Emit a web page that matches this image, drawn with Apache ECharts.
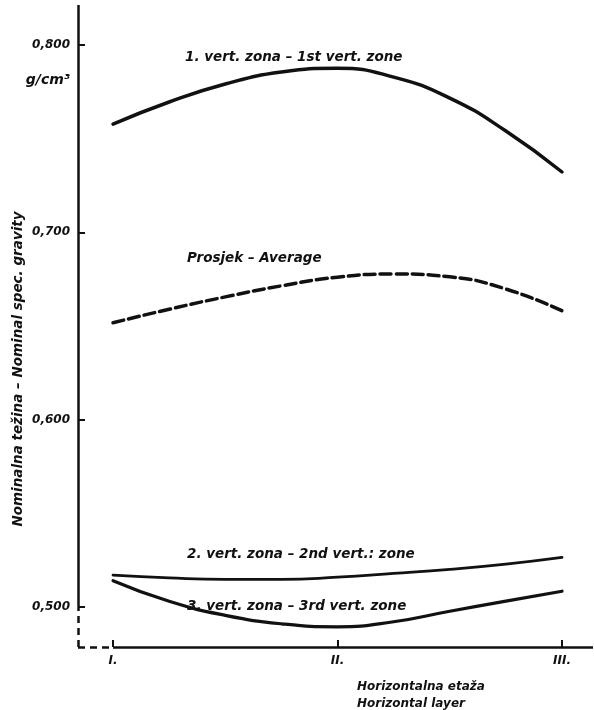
<!DOCTYPE html>
<html>
<head>
<meta charset="utf-8">
<script src="https://cdn.jsdelivr.net/npm/echarts@6/dist/echarts.min.js"></script>
<style>
  html, body { margin: 0; padding: 0; background: #fff; }
  #main { width: 594px; height: 710px; }
</style>
</head>
<body>
<div id="main"></div>
<script>
var chartDom = document.getElementById('main');
var myChart = echarts.init(chartDom);
var option;

// horizontal layers (I. = 0, II. = 1, III. = 2) and sample positions along the curves
var layerLabels = ['I.', 'II.', 'III.'];
var layerTicks = [0, 1, 2];
var samplePos = [0, 0.25, 0.5, 0.75, 1, 1.25, 1.5, 1.75, 2];

// nominal specific gravity, g/cm3
var zone1 = [0.7578, 0.7696, 0.7792, 0.7856, 0.7876, 0.7829, 0.7717, 0.7541, 0.7322];
var average = [0.6517, 0.6589, 0.6655, 0.6714, 0.676, 0.6777, 0.6762, 0.6697, 0.6581];
var zone2 = [0.5169, 0.5154, 0.5146, 0.5146, 0.5158, 0.5178, 0.520, 0.5228, 0.5264];
var zone3 = [0.5139, 0.5029, 0.4954, 0.4909, 0.4893, 0.492, 0.4976, 0.503, 0.5083];

var yTicks = [0.5, 0.6, 0.7, 0.8];

// axis extents
var xMin = -0.156, xMax = 2.138;
var yMin = 0.4785, yMax = 0.8214;

var font = 'DejaVu Sans';
var ink = '#111';
var labelFont = 'italic bold 13.5px "DejaVu Sans"';

function pairs(vals) {
    return samplePos.map(function (x, i) { return [x, vals[i]]; });
}

function curve(name, vals, width, dashed) {
    return {
        name: name,
        type: 'line',
        smooth: true,
        sampling: null,
        showSymbol: false,
        symbol: 'none',
        clip: false,
        lineStyle: {
            color: ink,
            width: width,
            type: dashed ? [11, 5] : 'solid',
            cap: 'round',
            join: 'round'
        },
        data: pairs(vals)
    };
}

function seg(a, b, dashed) {
    return [
        { coord: a, lineStyle: { color: ink, width: 2.5, type: dashed ? [7, 5] : 'solid' } },
        { coord: b }
    ];
}

function note(text, x, y) {
    return {
        type: 'text', x: x, y: y,
        style: { text: text, fill: ink, verticalAlign: 'middle', font: labelFont }
    };
}

option = {
    animation: false,
    backgroundColor: '#fff',
    textStyle: { fontFamily: font },
    grid: { left: 78, right: 1, top: 5, bottom: 63 },
    xAxis: {
        type: 'value',
        min: xMin,
        max: xMax,
        splitLine: { show: false },
        axisLine: { show: false, onZero: false },
        axisTick: {
            show: true,
            inside: true,
            length: 7,
            customValues: layerTicks,
            lineStyle: { color: ink, width: 2 }
        },
        axisLabel: {
            customValues: layerTicks,
            margin: 8,
            color: ink,
            fontFamily: font,
            fontSize: 12,
            fontWeight: 'bold',
            fontStyle: 'italic',
            formatter: function (v) { return layerLabels[Math.round(v)]; }
        }
    },
    yAxis: {
        type: 'value',
        min: yMin,
        max: yMax,
        splitLine: { show: false },
        axisLine: { show: false, onZero: false },
        axisTick: {
            show: true,
            inside: true,
            length: 7,
            customValues: yTicks,
            lineStyle: { color: ink, width: 2 }
        },
        axisLabel: {
            customValues: yTicks,
            margin: 8,
            color: ink,
            fontFamily: font,
            fontSize: 12,
            fontWeight: 'bold',
            fontStyle: 'italic',
            formatter: function (v) { return v.toFixed(3).replace('.', ','); }
        }
    },
    series: [
        curve('1. vert. zona', zone1, 3.5, false),
        curve('Prosjek', average, 3.5, true),
        curve('2. vert. zona', zone2, 2.8, false),
        curve('3. vert. zona', zone3, 3.2, false),
        {
            // axis frame: solid above 0,500 and right of I., dashed in the broken corner
            type: 'line',
            data: [],
            markLine: {
                silent: true,
                symbol: 'none',
                label: { show: false },
                data: [
                    seg([xMin, 0.5], [xMin, yMax], false),
                    seg([xMin, yMin], [xMin, 0.5], true),
                    seg([xMin, yMin], [0, yMin], true),
                    seg([0, yMin], [xMax, yMin], false)
                ]
            }
        }
    ],
    graphic: [
        {
            type: 'text', x: 70, y: 80,
            style: {
                text: 'g/cm³', fill: ink, align: 'right', verticalAlign: 'middle',
                font: 'italic bold 14px "DejaVu Sans"'
            }
        },
        {
            type: 'text', x: 18, y: 369, rotation: Math.PI / 2,
            style: {
                text: 'Nominalna težina – Nominal spec. gravity',
                fill: ink, align: 'center', verticalAlign: 'middle',
                font: 'italic bold 13.5px "DejaVu Sans"'
            }
        },
        note('1. vert. zona – 1st vert. zone', 185, 57),
        note('Prosjek – Average', 187, 258),
        note('2. vert. zona – 2nd vert.: zone', 187, 554),
        note('3. vert. zona – 3rd vert. zone', 187, 606),
        {
            type: 'text', x: 357, y: 678,
            style: {
                text: 'Horizontalna etaža\nHorizontal layer', fill: ink, lineHeight: 17,
                font: 'italic bold 12px "DejaVu Sans"'
            }
        }
    ]
};

option && myChart.setOption(option);
</script>
</body>
</html>
